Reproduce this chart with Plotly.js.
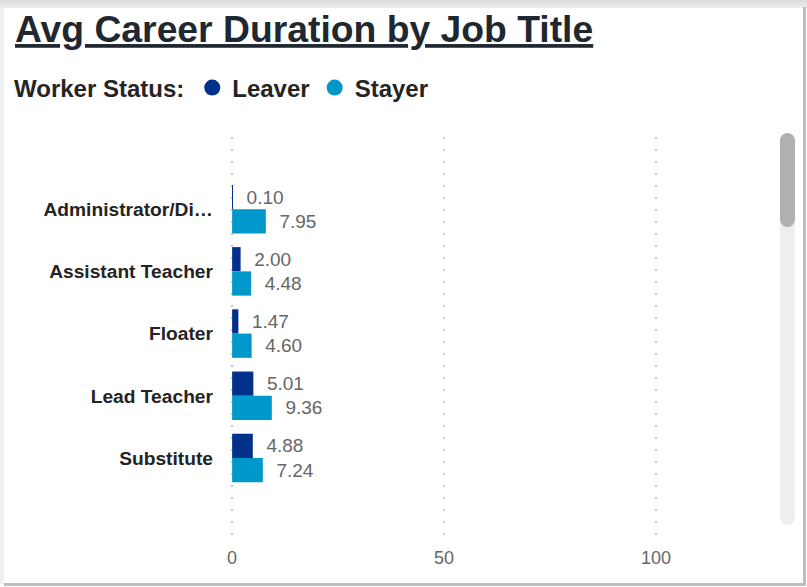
<!DOCTYPE html>
<html>
<head>
<meta charset="utf-8">
<script src="https://cdn.plot.ly/plotly-3.0.1.min.js"></script>
<style>
  html, body { margin: 0; padding: 0; background: #ffffff; }
  #wrap { position: relative; width: 807px; height: 587px; overflow: hidden; background: #ffffff; }
  #topstrip { position: absolute; left: 0; top: 0; width: 807px; height: 8px; background: linear-gradient(#dcdcdc, #ececec); }
  #leftstrip { position: absolute; left: 0; top: 8px; width: 4px; height: 576px; background: #f0f0f0; }
  #rightborder { position: absolute; left: 803px; top: 7px; width: 3px; height: 579px; background: #bdbdbd; }
  #bottomborder { position: absolute; left: 4px; top: 583px; width: 802px; height: 3px; background: #bdbdbd; }
  #chart { position: absolute; left: 0; top: 0; width: 807px; height: 587px; }
  #track { position: absolute; left: 780px; top: 133px; width: 15px; height: 392px; border-radius: 8px; background: #eeeeee; }
  #thumb { position: absolute; left: 780px; top: 133px; width: 15px; height: 94px; border-radius: 8px; background: #b0b0b0; }
</style>
</head>
<body>
<div id="wrap">
  <div id="topstrip"></div>
  <div id="leftstrip"></div>
  <div id="chart"></div>
  <div id="rightborder"></div>
  <div id="bottomborder"></div>
  <div id="track"></div>
  <div id="thumb"></div>
</div>
<script>
// ---- data ----
const jobTitles = ["Administrator/Di\u2026", "Assistant Teacher", "Floater", "Lead Teacher", "Substitute"];
const leaverYears = [0.10, 2.00, 1.47, 5.01, 4.88];
const stayerYears = [7.95, 4.48, 4.60, 9.36, 7.24];
const seriesNames = ["Leaver", "Stayer"];
const xTickValues = [0, 50, 100];

const leaverColor = "#01318A";
const stayerColor = "#0097CA";
const pad = "\u00a0\u00a0";

function barTrace(name, values, color) {
  return {
    type: "bar",
    orientation: "h",
    name: name,
    y: jobTitles,
    x: values,
    marker: { color: color },
    texttemplate: pad + "%{x:.2f}",
    textposition: "outside",
    cliponaxis: false,
    constraintext: "none",
    outsidetextfont: { family: "Liberation Sans, Arial, sans-serif", size: 19, color: "#666666" },
    textfont: { family: "Liberation Sans, Arial, sans-serif", size: 19, color: "#666666" },
    showlegend: false,
    hoverinfo: "x+y+name"
  };
}
function legendTrace(name, color) {
  return {
    type: "scatter",
    mode: "markers",
    name: name,
    x: [null],
    y: [null],
    marker: { color: color, size: 19, symbol: "circle" },
    showlegend: true
  };
}

const data = [
  barTrace(seriesNames[0], leaverYears, leaverColor),
  barTrace(seriesNames[1], stayerYears, stayerColor),
  legendTrace(seriesNames[0], leaverColor),
  legendTrace(seriesNames[1], stayerColor)
];

const layout = {
  width: 807,
  height: 587,
  margin: { l: 230, r: 37, t: 137, b: 50, pad: 0 },
  paper_bgcolor: "rgba(0,0,0,0)",
  plot_bgcolor: "rgba(0,0,0,0)",
  font: { family: "Liberation Sans, Arial, sans-serif", color: "#252423" },
  title: {
    text: "Avg Career Duration by Job Title",
    font: { family: "Liberation Sans, Arial, sans-serif", size: 37.3, weight: "bold", color: "#1f2830", lineposition: "under" },
    x: 15 / 807,
    xref: "container",
    xanchor: "left",
    y: 1 - 29 / 587,
    yref: "container",
    yanchor: "middle"
  },
  barmode: "group",
  bargap: 0.22,
  bargroupgap: 0,
  showlegend: true,
  legend: {
    orientation: "h",
    xref: "container",
    yref: "container",
    x: 12 / 807,
    xanchor: "left",
    y: 1 - 88 / 587,
    yanchor: "middle",
    title: { text: "Worker Status:", side: "left", font: { size: 24, weight: "bold", color: "#252423" } },
    font: { size: 24, weight: "bold", color: "#252423" },
    itemclick: false,
    bgcolor: "rgba(0,0,0,0)"
  },
  xaxis: {
    range: [-0.5, 126.86],
    tickvals: xTickValues,
    ticks: "",
    showline: false,
    zeroline: false,
    showgrid: true,
    gridcolor: "#c8c8c8",
    gridwidth: 2,
    griddash: "2px,10px",
    tickfont: { size: 18, color: "#666666" },
    ticklabelstandoff: 8,
    fixedrange: true
  },
  yaxis: {
    type: "category",
    range: [5.27, -1.16],
    ticks: "",
    showline: false,
    showgrid: false,
    zeroline: false,
    tickfont: { size: 19.2, weight: "bold", color: "#252423" },
    ticklabelstandoff: 16,
    fixedrange: true
  }
};

Plotly.newPlot("chart", data, layout, { displayModeBar: false });
</script>
</body>
</html>
